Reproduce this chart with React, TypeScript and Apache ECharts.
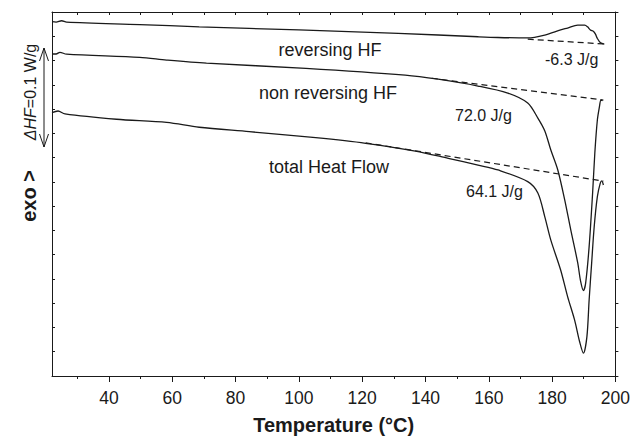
import React, { useEffect, useRef } from "react";
import * as echarts from "echarts";

// Temperature (°C) and heat-flow (arbitrary units, shifted curves)
const reversingT = [22.0, 23.3, 25.05, 26.6, 49.7, 68.5, 100.0, 131.4, 156.6, 162.9, 172.3, 177.7, 182.7, 184.9, 188.1, 190.3, 191.2, 192.1, 193.1, 193.7, 194.3, 195.3, 196.5];
const reversingHF = [14.6, 14.58, 14.64, 14.58, 14.48, 14.39, 14.26, 14.12, 13.98, 13.95, 13.93, 14.05, 14.26, 14.34, 14.46, 14.46, 14.39, 14.26, 14.2, 14.09, 13.91, 13.73, 13.68];

const nonRevT = [22.0, 23.3, 24.5, 26.6, 49.7, 58.2, 70.8, 102.2, 133.6, 144.0, 156.6, 166.0, 172.3, 175.5, 177.7, 179.6, 181.8, 184.0, 185.9, 188.1, 189.0, 189.9, 190.6, 191.7, 192.8, 193.5, 194.3, 195.0, 195.4, 195.9];
const nonRevHF = [13.27, 13.27, 13.34, 13.26, 13.13, 13.02, 12.89, 12.68, 12.4, 12.23, 11.95, 11.66, 11.25, 10.63, 10.1, 9.31, 8.49, 7.25, 6.02, 4.66, 3.91, 3.52, 3.83, 5.33, 7.54, 9.19, 10.55, 11.13, 11.37, 11.35];

const totalT = [22.0, 23.9, 26.1, 42.4, 58.2, 68.5, 84.3, 105.3, 121.1, 136.8, 147.2, 156.6, 162.9, 172.3, 175.5, 177.7, 179.6, 182.7, 184.9, 187.1, 188.7, 189.9, 191.0, 191.7, 192.5, 193.3, 194.3, 195.2, 195.7, 196.2];
const totalHF = [10.85, 10.92, 10.8, 10.58, 10.45, 10.25, 10.07, 9.82, 9.59, 9.27, 8.97, 8.69, 8.49, 8.01, 7.54, 6.56, 5.6, 4.37, 3.27, 2.31, 1.41, 0.94, 1.62, 3.13, 4.66, 6.15, 7.39, 7.94, 8.04, 7.87];

// Integration baselines (start, end)
const revBaseT = [172.3, 196.6];
const revBaseHF = [13.88, 13.68];
const nonRevBaseT = [142.0, 196.2];
const nonRevBaseHF = [12.27, 11.37];
const totalBaseT = [121.1, 196.2];
const totalBaseHF = [9.61, 8.03];

const majorTicks = [40, 60, 80, 100, 120, 140, 160, 180, 200];
const minorTicks = [30, 50, 70, 90, 110, 130, 150, 170, 190];
const allTicks = [30, 40, 50, 60, 70, 80, 90, 100, 110, 120, 130, 140, 150, 160, 170, 180, 190, 200];

const zip = (a: number[], b: number[]) => a.map((v, i) => [v, b[i]]);

const FONT = "'Liberation Sans', Arial, sans-serif";
const INK = "#1a1a1a";

export default function App() {
  const ref = useRef<HTMLDivElement>(null);
  useEffect(() => {
    if (!ref.current) return;
    const chart = echarts.init(ref.current, null, { renderer: "svg" });
    const solid = (data: number[][]) => ({
      type: "line",
      data,
      xAxisIndex: 0,
      yAxisIndex: 0,
      showSymbol: false,
      smooth: 0.3,
      lineStyle: { color: INK, width: 1.3 },
      z: 3,
    });
    const dashed = (data: number[][]) => ({
      type: "line",
      data,
      xAxisIndex: 0,
      yAxisIndex: 0,
      showSymbol: false,
      lineStyle: { color: INK, width: 1.2, type: [6, 4] },
      z: 2,
    });
    const xBase = { type: "value", min: 22, max: 200, splitLine: { show: false } };
    chart.setOption({
      animation: false,
      backgroundColor: "#fff",
      grid: { left: 52, right: 15, top: 12, bottom: 64 },
      xAxis: [
        {
          ...xBase,
          position: "bottom",
          axisLine: { lineStyle: { color: INK, width: 1 } },
          axisTick: { show: true, customValues: majorTicks, length: 6, inside: false, lineStyle: { color: INK } },
          axisLabel: { customValues: majorTicks, color: INK, fontSize: 17.5, fontFamily: FONT, margin: 13 },
          name: "Temperature (°C)",
          nameLocation: "middle",
          nameGap: 39,
          nameTextStyle: { fontSize: 20, fontWeight: "bold", color: INK, fontFamily: FONT },
        },
        {
          ...xBase,
          position: "bottom",
          axisLine: { show: false },
          axisTick: { show: true, customValues: minorTicks, length: 3, inside: false, lineStyle: { color: INK } },
          axisLabel: { show: false },
        },
        {
          ...xBase,
          position: "top",
          axisLine: { lineStyle: { color: INK, width: 1 } },
          axisTick: { show: true, customValues: allTicks, length: 3, inside: true, lineStyle: { color: INK } },
          axisLabel: { show: false },
        },
      ],
      yAxis: [
        {
          type: "value",
          min: 0,
          max: 15,
          interval: 1,
          position: "left",
          splitLine: { show: false },
          axisLine: { show: true, lineStyle: { color: INK, width: 1 } },
          axisTick: { show: true, inside: true, length: 3, lineStyle: { color: INK } },
          axisLabel: { show: false },
        },
        {
          type: "value",
          min: 0,
          max: 15,
          interval: 1,
          position: "right",
          splitLine: { show: false },
          axisLine: { show: true, lineStyle: { color: INK, width: 1 } },
          axisTick: { show: true, inside: false, length: 3, lineStyle: { color: INK } },
          axisLabel: { show: false },
        },
      ],
      series: [
        solid(zip(reversingT, reversingHF)),
        solid(zip(nonRevT, nonRevHF)),
        solid(zip(totalT, totalHF)),
        dashed(zip(revBaseT, revBaseHF)),
        dashed(zip(nonRevBaseT, nonRevBaseHF)),
        dashed(zip(totalBaseT, totalBaseHF)),
      ],
      graphic: [
        { type: "text", x: 330, y: 50, style: { text: "reversing HF", font: `18px ${FONT}`, fill: INK, align: "center", verticalAlign: "middle" } },
        { type: "text", x: 328, y: 93, style: { text: "non reversing HF", font: `18px ${FONT}`, fill: INK, align: "center", verticalAlign: "middle" } },
        { type: "text", x: 329, y: 167, style: { text: "total Heat Flow", font: `18px ${FONT}`, fill: INK, align: "center", verticalAlign: "middle" } },
        { type: "text", x: 545, y: 59, style: { text: "-6.3 J/g", font: `16px ${FONT}`, fill: INK, align: "left", verticalAlign: "middle" } },
        { type: "text", x: 455, y: 115, style: { text: "72.0 J/g", font: `16px ${FONT}`, fill: INK, align: "left", verticalAlign: "middle" } },
        { type: "text", x: 466, y: 191, style: { text: "64.1 J/g", font: `16px ${FONT}`, fill: INK, align: "left", verticalAlign: "middle" } },
        {
          type: "text",
          x: 29,
          y: 196,
          rotation: Math.PI / 2,
          style: { text: "exo >", font: `bold 20px ${FONT}`, fill: INK, align: "center", verticalAlign: "middle" },
        },
        {
          type: "text",
          x: 30,
          y: 92,
          rotation: Math.PI / 2,
          style: {
            text: "{i|ΔHF}=0.1 W/g",
            font: `16px ${FONT}`,
            fill: INK,
            align: "center",
            verticalAlign: "middle",
            rich: { i: { fontStyle: "italic", fontSize: 16, fontFamily: FONT, fill: INK } },
          },
        },
        { type: "line", shape: { x1: 44, y1: 48, x2: 44, y2: 147 }, style: { stroke: INK, lineWidth: 1 } },
        { type: "polyline", shape: { points: [[39.5, 61], [44, 48], [48.5, 61]] }, style: { stroke: INK, lineWidth: 1, fill: null } },
        { type: "polyline", shape: { points: [[39.5, 134], [44, 147], [48.5, 134]] }, style: { stroke: INK, lineWidth: 1, fill: null } },
      ],
    });
    return () => chart.dispose();
  }, []);
  return <div ref={ref} style={{ position: "fixed", left: 0, top: 0, width: 633, height: 440 }} />;
}
